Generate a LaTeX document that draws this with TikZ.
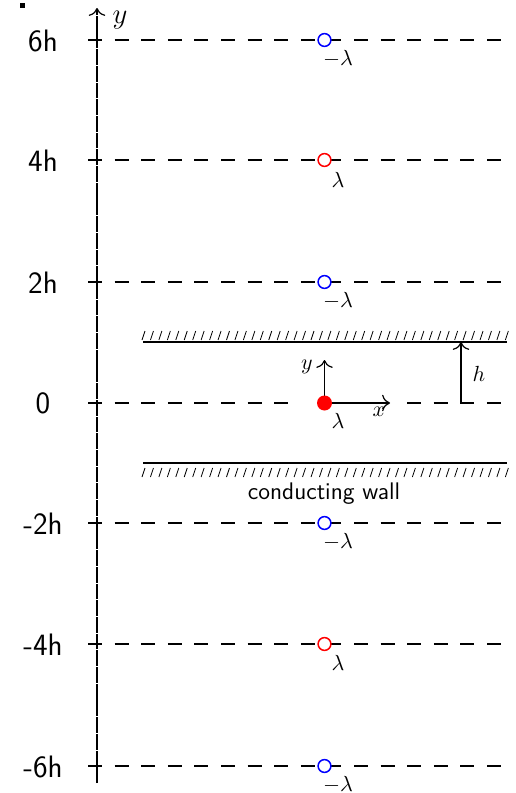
\documentclass[tikz,border=0pt]{standalone}
\usepackage{fontspec}
\usetikzlibrary{arrows.meta}
\begin{document}
\begin{tikzpicture}[x=0.5pt,y=-0.5pt,line width=0.6pt,
  arr/.style={-{To[scale=1.35]}},
  level/.style={line width=0.55pt,dash pattern=on 7pt off 6.3pt},
  charge/.style={circle,draw,line width=0.75pt,fill=white,inner sep=0pt,minimum size=6.4pt},
  ticklab/.style={font=\sffamily\fontsize{15.5}{18}\selectfont},
  lab/.style={font=\fontsize{11}{13}\selectfont},
  wall/.style={line width=0.6pt},
  hatch/.style={line width=0.4pt},
  axis/.style={arr,dash pattern=on 7.9pt off 0.45pt}]
\useasboundingbox (0,0) rectangle (515,793);
% small mark top-left
\fill (20,3) rectangle (25,8);
% main y axis
\coordinate (ybot) at (97,783);
\coordinate (ytop) at (97,8);
% levels
\foreach \yy/\nm in {40/a,160/b,282/c,523/e,644/f,766/g}{
  \coordinate (L\nm) at (88,\yy);
  \coordinate (R\nm) at (502,\yy);
  \draw[level] (L\nm) -- (R\nm);
}
% zero level in two parts
\coordinate (Ld) at (88,403);
\coordinate (Md) at (289,403);
\coordinate (Nd) at (407,403);
\coordinate (Rd) at (502,403);
\draw[level] (Ld) -- (Md);
\draw[level] (Nd) -- (Rd);
\draw[axis] (ybot) -- (ytop);
\node[font=\Large] (ylab) at (120,20) {$y$};
% tick labels
\node[ticklab] (ta) at (43,41) {6h};
\node[ticklab] (tb) at (43,161) {4h};
\node[ticklab] (tc) at (43,283) {2h};
\node[ticklab] (td) at (43,403) {0};
\node[ticklab] (te) at (43,524) {-2h};
\node[ticklab] (tf) at (43,645) {-4h};
\node[ticklab] (tg) at (43,767) {-6h};
% image charges
\node[charge,draw=blue] (ca) at (324.5,40) {};
\node[charge,draw=red]  (cb) at (324.5,160) {};
\node[charge,draw=blue] (cc) at (324.5,282) {};
\node[charge,draw=blue] (ce) at (324.5,523) {};
\node[charge,draw=red]  (cf) at (324.5,644) {};
\node[charge,draw=blue] (cg) at (324.5,766) {};
\node[lab] (qa) at (338,59) {$-\lambda$};
\node[lab] (qb) at (338,180) {$\lambda$};
\node[lab] (qc) at (338,301) {$-\lambda$};
\node[lab] (qe) at (338,542) {$-\lambda$};
\node[lab] (qf) at (338,663) {$\lambda$};
\node[lab] (qg) at (338,785) {$-\lambda$};
% real charge and local axes
\coordinate (o) at (324.5,403);
\coordinate (ly) at (324.5,360);
\coordinate (lx) at (390,403);
\draw[arr] (o) -- (ly);
\draw[arr] (o) -- (lx);
\node[circle,fill=red,inner sep=0pt,minimum size=7.5pt] (cd) at (o) {};
\node[lab] (qd) at (338,421) {$\lambda$};
\node[lab] (lyl) at (307,367) {$y$};
\node[lab] (lxl) at (379,412) {$x$};
% walls
\coordinate (wt1) at (143,342);
\coordinate (wt2) at (507,342);
\coordinate (wb1) at (143,463);
\coordinate (wb2) at (507,463);
\draw[wall] (wt1) -- (wt2);
\draw[wall] (wb1) -- (wb2);
\foreach \i in {0,...,43}{
  \draw[hatch] (142+\i*8.45,340) -- ++(3,-9);
  \draw[hatch] (142+\i*8.45,477) -- ++(3,-9);
}
\node[font=\sffamily\large] (cw) at (324,494) {conducting wall};
% h marker
\coordinate (hb) at (461,403);
\coordinate (ht) at (461,342);
\draw[arr] (hb) -- (ht);
\node[lab] (hl) at (479,374) {$h$};
\end{tikzpicture}
\end{document}
